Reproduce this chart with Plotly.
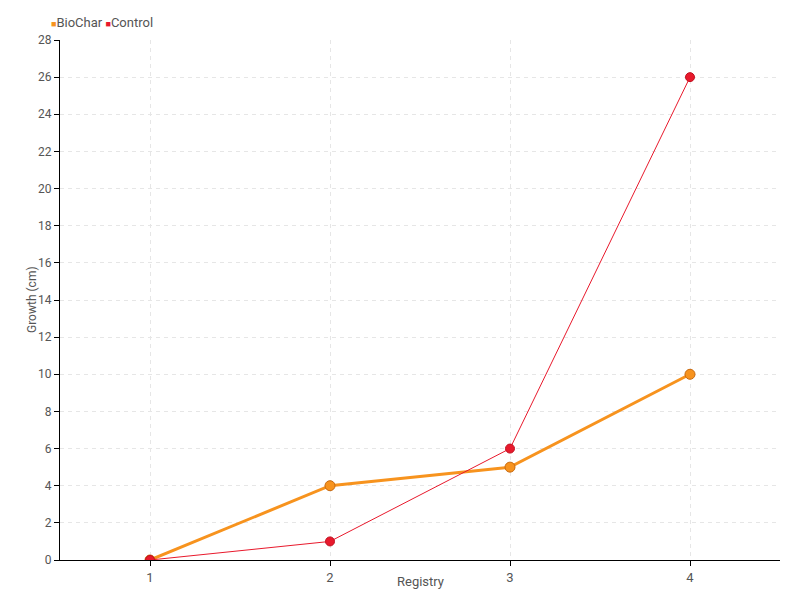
import plotly.graph_objects as go

categories = ["1", "2", "3", "4"]
biochar = [0, 4, 5, 10]
control = [0, 1, 6, 26]
y_ticks = list(range(0, 29, 2))

FONT = "Roboto, sans-serif"
ORANGE = "#F7931E"
RED = "#E8192C"
GREY = "#555555"

fig = go.Figure()
fig.add_trace(go.Scatter(x=categories, y=biochar, mode="lines+markers", name="BioChar",
                         line=dict(color=ORANGE, width=3),
                         marker=dict(size=10, color=ORANGE, line=dict(color="#C86A10", width=1)),
                         showlegend=False))
fig.add_trace(go.Scatter(x=categories, y=control, mode="lines+markers", name="Control",
                         line=dict(color=RED, width=1),
                         marker=dict(size=9, color=RED, line=dict(color="#C0101F", width=1)),
                         showlegend=False))

legend_text = (f"<span style='color:{ORANGE};font-size:9px'>■</span>BioChar "
               f"<span style='color:{RED};font-size:9px'>■</span>Control")
fig.add_annotation(text=legend_text, xref="paper", yref="paper", x=0, y=1.0,
                   xanchor="left", yanchor="middle", xshift=-11, yshift=18, showarrow=False,
                   font=dict(family=FONT, size=13, color=GREY))
fig.add_annotation(text="Registry", xref="paper", yref="paper", x=0.5, y=0,
                   xanchor="center", yanchor="middle", yshift=-21, showarrow=False,
                   font=dict(family=FONT, size=13, color=GREY))
fig.add_annotation(text="Growth (cm)", xref="paper", yref="paper", x=0, y=0.5,
                   xanchor="center", yanchor="middle", xshift=-28, textangle=-90, showarrow=False,
                   font=dict(family=FONT, size=12, color=GREY))

fig.update_layout(
    width=800, height=600,
    margin=dict(l=52, r=28, t=32, b=48, autoexpand=False),
    paper_bgcolor="white", plot_bgcolor="white",
    font=dict(family=FONT, size=12, color=GREY),
    showlegend=False,
    xaxis=dict(type="category", range=[-0.5, 3.5], automargin=False,
               showline=True, linecolor="black", linewidth=1,
               ticks="outside", ticklen=5, tickcolor="black",
               tickfont=dict(size=13),
               showgrid=True, gridcolor="#E6E6E6", griddash="4px,4px", zeroline=False),
    yaxis=dict(range=[0, 28], tickvals=y_ticks, automargin=False,
               showline=True, linecolor="black", linewidth=1,
               ticks="outside", ticklen=5, tickcolor="black",
               tickfont=dict(size=12),
               showgrid=True, gridcolor="#E6E6E6", griddash="4px,4px", zeroline=False),
)

fig.write_html("out.html")
